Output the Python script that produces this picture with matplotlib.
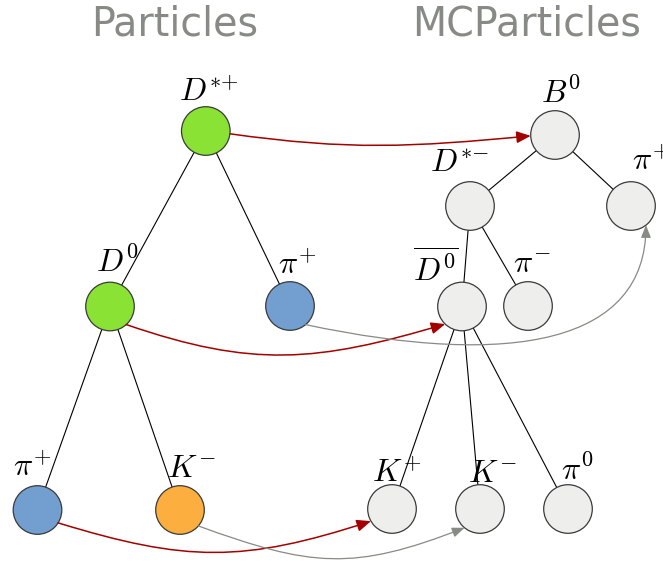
import numpy as np
import matplotlib
matplotlib.use("Agg")
import matplotlib.pyplot as plt
from matplotlib.patches import Circle, FancyArrowPatch
from matplotlib.path import Path

plt.rcParams['mathtext.fontset'] = 'cm'

# nodes: name, centre (pixels, y down), fill, label, label position
names = ['Dst', 'D0', 'pi_m', 'pi_b', 'K',
         'B0', 'mcDst', 'mcpi', 'mcD0', 'mcpim', 'mcK', 'mcKm', 'mcpi0']
node_x = [205.8, 110, 290, 37.5, 180, 555, 470, 631, 462, 528, 392, 480, 568]
node_y = [131, 306.5, 306, 510, 510, 135, 206, 206, 306.5, 306, 509, 509, 509]
fills = ['#8ae234', '#8ae234', '#729fcf', '#729fcf', '#fcaf3e'] + ['#eeeeec'] * 8
labels = [r'$D^{*\!+}$', r'$D^0$', r'$\pi^{\!+}$', r'$\pi^{\!+}$', r'$K^{\!-}$',
          r'$B^0$', r'$D^{*\!-}$', r'$\pi^{\!+}$', r'$\overline{D^0}$', r'$\pi^{\!-}$',
          r'$K^{\!+}$', r'$K^{\!-}$', r'$\pi^0$']
lab_x = [209, 117, 297, 32, 191, 561, 460, 651, 436, 532, 397, 492, 577]
lab_y = [101, 272, 274, 476, 477, 103, 172, 170, 282, 273, 482, 482, 480]

# decay tree edges
edges = [('Dst', 'D0'), ('Dst', 'pi_m'), ('D0', 'pi_b'), ('D0', 'K'),
         ('B0', 'mcDst'), ('B0', 'mcpi'), ('mcDst', 'mcD0'), ('mcDst', 'mcpim'),
         ('mcD0', 'mcK'), ('mcD0', 'mcKm'), ('mcD0', 'mcpi0')]

# relations Particle -> MCParticle
# (src, dst, angle on src, angle on dst, tangent out, tangent in, k out, k in, colour)
links = [('Dst', 'B0', -6.6, 182, -8, 185.4, 0.4, 0.4, '#a40000'),
         ('D0', 'mcD0', -48, 226.3, -19, 196.5, 0.42, 0.42, '#a40000'),
         ('pi_b', 'mcK', -32, 210, -17, 198, 0.43, 0.43, '#a40000'),
         ('pi_m', 'mcpi', -50, -52, -12, -90, 0.6, 0.33, '#888a85'),
         ('K', 'mcKm', -41, 230.6, -20, 201.4, 0.45, 0.45, '#888a85')]

R = 24.3
pos = {n: np.array([x, y]) for n, x, y in zip(names, node_x, node_y)}


def unit(a):
    a = np.radians(a)
    return np.array([np.cos(a), -np.sin(a)])


fig = plt.figure(figsize=(6.63, 5.61), dpi=100)
ax = fig.add_axes([0, 0, 1, 1])
ax.set_xlim(0, 663)
ax.set_ylim(561, 0)
ax.axis('off')

for a, b in edges:
    ax.plot([pos[a][0], pos[b][0]], [pos[a][1], pos[b][1]], color='black', lw=0.8, zorder=1)

for n, c in zip(names, fills):
    ax.add_patch(Circle(pos[n], R, facecolor=c, edgecolor='#3a3a3a', lw=0.9, zorder=2))

for t, x, y in zip(labels, lab_x, lab_y):
    ax.text(x, y, t, fontsize=23, ha='center', va='baseline', zorder=0)

for s, d, a1, a2, t1, t2, k1, k2, col in links:
    p0 = pos[s] + R * unit(a1)
    p3 = pos[d] + R * unit(a2)
    L = np.linalg.norm(p3 - p0)
    c1 = p0 + k1 * L * unit(t1)
    c2 = p3 + k2 * L * unit(t2)
    path = Path([p0, c1, c2, p3], [Path.MOVETO, Path.CURVE4, Path.CURVE4, Path.CURVE4])
    if col == '#a40000':
        style = '-|>,head_length=8.5,head_width=3.6'
        lw = 1.1
    else:
        style = '-|>,head_length=7.5,head_width=3'
        lw = 0.9
    ax.add_patch(FancyArrowPatch(path=path, arrowstyle=style, mutation_scale=1,
                                 color=col, lw=lw, zorder=3))

ax.text(175, 35.4, 'Particles', fontsize=28.5, color='#888a85', ha='center', va='baseline')
ax.text(527, 35.4, 'MCParticles', fontsize=28.5, color='#888a85', ha='center', va='baseline')

fig.savefig('out.png', dpi=100)
